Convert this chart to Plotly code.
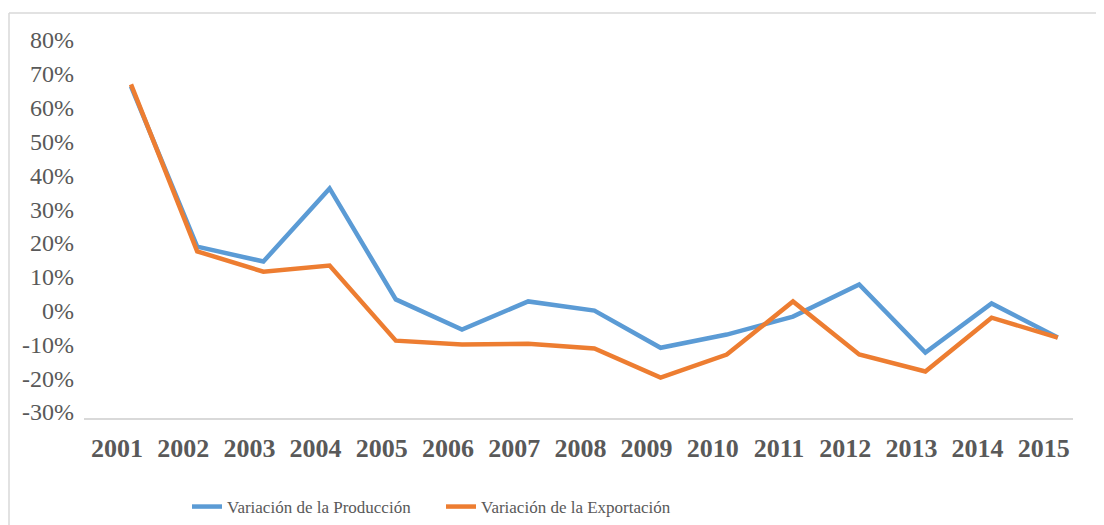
import plotly.graph_objects as go

years = ["2001", "2002", "2003", "2004", "2005", "2006", "2007", "2008",
         "2009", "2010", "2011", "2012", "2013", "2014", "2015"]
produccion = [66.3, 18.9, 14.5, 36.1, 3.3, -5.6, 2.7, 0.0,
              -11.0, -7.1, -1.8, 7.7, -12.4, 2.1, -8.0]
exportacion = [66.9, 17.5, 11.5, 13.3, -8.9, -10.0, -9.8, -11.2,
               -19.8, -13.0, 2.7, -13.0, -18.0, -2.1, -8.0]
y_ticks = [-30, -20, -10, 0, 10, 20, 30, 40, 50, 60, 70, 80]
y_tick_labels = [f"{v}%" for v in y_ticks]

# the page body has an 8px margin, so the figure is sized to fit the window
OFF = 8
W, H = 1104 - OFF, 525 - OFF
L, R, T, B = 84 - OFF, 31, 40 - OFF, H - (418 - OFF)
pw, ph = W - L - R, H - T - B

def px_x(sx):
    return (sx - OFF - L) / pw

def px_y(sy):
    return (H - B - (sy - OFF)) / ph

fig = go.Figure()
fig.add_trace(go.Scatter(x=years, y=produccion, mode="lines",
                         name="Variación de la Producción",
                         line=dict(color="#5B9BD5", width=4.5)))
fig.add_trace(go.Scatter(x=years, y=exportacion, mode="lines",
                         name="Variación de la Exportación",
                         line=dict(color="#ED7D31", width=4.5)))

fig.update_layout(
    width=W, height=H,
    margin=dict(l=L, r=R, t=T, b=B, autoexpand=False),
    paper_bgcolor="white", plot_bgcolor="white",
    showlegend=True,
    legend=dict(orientation="h", x=px_x(187), xanchor="left", y=px_y(507), yanchor="middle",
                bgcolor="rgba(0,0,0,0)",
                font=dict(family="Liberation Serif", size=17, color="#595959"),
                itemwidth=30, entrywidth=209, entrywidthmode="pixels", tracegroupgap=0),
    xaxis=dict(type="category", range=[-0.71, 14.23], showgrid=False,
               showline=True, linecolor="#D9D9D9", linewidth=1.5,
               ticks="", tickfont=dict(family="Liberation Serif", size=26, color="#595959",
                                       weight="bold"),
               ticklabelstandoff=6, ticklabelshift=-14, zeroline=False),
    yaxis=dict(range=[-31.77, 80], tickvals=y_ticks, ticktext=y_tick_labels,
               showgrid=False, zeroline=False, showline=False, ticks="",
               tickfont=dict(family="Liberation Serif", size=24, color="#595959"),
               ticklabelstandoff=9),
    shapes=[
        dict(type="line", xref="paper", yref="paper",
             x0=px_x(9), x1=px_x(1120), y0=px_y(13), y1=px_y(13),
             line=dict(color="#D9D9D9", width=1.5)),
        dict(type="line", xref="paper", yref="paper",
             x0=px_x(9), x1=px_x(9), y0=px_y(13), y1=px_y(540),
             line=dict(color="#D9D9D9", width=1.5)),
    ],
)

fig.write_html("out.html")
